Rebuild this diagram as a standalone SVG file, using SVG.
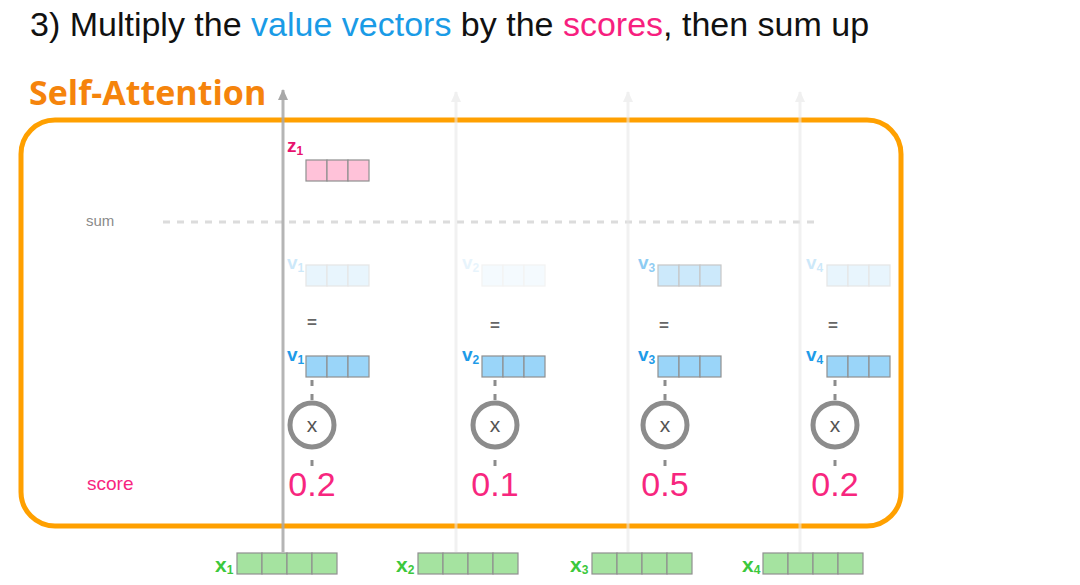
<svg xmlns="http://www.w3.org/2000/svg" width="1080" height="585" viewBox="0 0 1080 585">
<style>
.title{font-family:"Liberation Sans",Arial,sans-serif;font-size:34px;fill:#111}
.sa{font-family:"Open Sans","Liberation Sans",sans-serif;font-weight:bold;font-size:34px;fill:#F5840C}
.lbl{font-family:"Liberation Sans",Arial,sans-serif;font-size:15px;fill:#8a8a8a}
.score{font-family:"Liberation Sans",Arial,sans-serif;font-size:19px;fill:#F7267E}
.num{font-family:"Liberation Sans",Arial,sans-serif;font-size:34px;fill:#F7267E;text-anchor:middle}
.vl{font-family:"Liberation Sans",Arial,sans-serif;font-weight:bold;font-size:19px}
.sub{font-size:12px}
.xl{font-family:"Liberation Sans",Arial,sans-serif;font-weight:bold;font-size:21px;fill:#3CC83C}
.eq{font-family:"Liberation Sans",Arial,sans-serif;font-weight:bold;font-size:17px;fill:#666;text-anchor:middle}
.mx{font-family:"Liberation Sans",Arial,sans-serif;font-size:21px;fill:#555;text-anchor:middle}
.cell{stroke:#8f8f8f;stroke-width:1.2}
.green{fill:#A5E3A0}
.blue{fill:#9AD5F9}
.pink{fill:#FFC2D9}
.circ{fill:#fff;stroke:#8C8C8C;stroke-width:5}
.tick{stroke:#8C8C8C;stroke-width:3;stroke-dasharray:6 8}
</style>
<defs>
<marker id="ahd" markerWidth="12" markerHeight="12" refX="10" refY="5" orient="auto" markerUnits="userSpaceOnUse">
<path d="M0,0 L11,5 L0,10 Z" fill="#A8A8A8"/>
</marker>
<marker id="ahl" markerWidth="12" markerHeight="12" refX="10" refY="5" orient="auto" markerUnits="userSpaceOnUse">
<path d="M0,0 L11,5 L0,10 Z" fill="#F0F0F0"/>
</marker>
</defs>

<g id="title">
<text class="title" x="30" y="36">3) Multiply the <tspan fill="#1A9BE6">value vectors</tspan> by the <tspan fill="#F71F7F">scores</tspan>, then sum up</text>
</g>

<g id="self-attention">
<text class="sa" x="29" y="105">Self-Attention</text>
<rect x="21" y="120" width="880" height="406" rx="34" fill="none" stroke="#FFA000" stroke-width="5"/>
</g>

<g id="row-labels">
<text class="lbl" x="86" y="226">sum</text>
<text class="score" x="87" y="490">score</text>
</g>

<g id="sum-line">
<line x1="163" y1="222" x2="815" y2="222" stroke="#DCDCDC" stroke-width="3" stroke-dasharray="7 7"/>
</g>

<g id="z1">
<text class="vl" x="287" y="152" fill="#E8126E">z<tspan class="sub" dy="3">1</tspan></text>
<rect class="cell pink" x="306" y="160" width="21" height="21"/>
<rect class="cell pink" x="327" y="160" width="21" height="21"/>
<rect class="cell pink" x="348" y="160" width="21" height="21"/>
</g>

<g id="col1">
<g opacity="0.22">
<text class="vl" x="287" y="269" fill="#1E9BE8">v<tspan class="sub" dy="3">1</tspan></text>
<rect class="cell blue" x="306" y="265" width="21" height="21"/><rect class="cell blue" x="327" y="265" width="21" height="21"/><rect class="cell blue" x="348" y="265" width="21" height="21"/>
</g>
<text class="eq" x="312" y="328">=</text>
<text class="vl" x="287" y="361" fill="#1E9BE8">v<tspan class="sub" dy="3">1</tspan></text>
<rect class="cell blue" x="306" y="356" width="21" height="21"/><rect class="cell blue" x="327" y="356" width="21" height="21"/><rect class="cell blue" x="348" y="356" width="21" height="21"/>
<line class="tick" x1="312" y1="380" x2="312" y2="402"/>
<line class="tick" x1="312" y1="460" x2="312" y2="470"/>
<circle class="circ" cx="312" cy="425" r="22"/>
<text class="mx" x="312" y="432">x</text>
<text class="num" x="312" y="496">0.2</text>
</g>

<g id="col2">
<g opacity="0.1">
<text class="vl" x="462" y="269" fill="#1E9BE8">v<tspan class="sub" dy="3">2</tspan></text>
<rect class="cell blue" x="482" y="265" width="21" height="21"/><rect class="cell blue" x="503" y="265" width="21" height="21"/><rect class="cell blue" x="524" y="265" width="21" height="21"/>
</g>
<text class="eq" x="495" y="331">=</text>
<text class="vl" x="462" y="361" fill="#1E9BE8">v<tspan class="sub" dy="3">2</tspan></text>
<rect class="cell blue" x="482" y="356" width="21" height="21"/><rect class="cell blue" x="503" y="356" width="21" height="21"/><rect class="cell blue" x="524" y="356" width="21" height="21"/>
<line class="tick" x1="495" y1="380" x2="495" y2="402"/>
<line class="tick" x1="495" y1="460" x2="495" y2="470"/>
<circle class="circ" cx="495" cy="425" r="22"/>
<text class="mx" x="495" y="432">x</text>
<text class="num" x="495" y="496">0.1</text>
</g>

<g id="col3">
<g opacity="0.5">
<text class="vl" x="638" y="269" fill="#1E9BE8">v<tspan class="sub" dy="3">3</tspan></text>
<rect class="cell blue" x="658" y="265" width="21" height="21"/><rect class="cell blue" x="679" y="265" width="21" height="21"/><rect class="cell blue" x="700" y="265" width="21" height="21"/>
</g>
<text class="eq" x="664" y="331">=</text>
<text class="vl" x="638" y="361" fill="#1E9BE8">v<tspan class="sub" dy="3">3</tspan></text>
<rect class="cell blue" x="658" y="356" width="21" height="21"/><rect class="cell blue" x="679" y="356" width="21" height="21"/><rect class="cell blue" x="700" y="356" width="21" height="21"/>
<line class="tick" x1="665" y1="380" x2="665" y2="402"/>
<line class="tick" x1="665" y1="460" x2="665" y2="470"/>
<circle class="circ" cx="665" cy="425" r="22"/>
<text class="mx" x="665" y="432">x</text>
<text class="num" x="665" y="496">0.5</text>
</g>

<g id="col4">
<g opacity="0.22">
<text class="vl" x="806" y="269" fill="#1E9BE8">v<tspan class="sub" dy="3">4</tspan></text>
<rect class="cell blue" x="827" y="265" width="21" height="21"/><rect class="cell blue" x="848" y="265" width="21" height="21"/><rect class="cell blue" x="869" y="265" width="21" height="21"/>
</g>
<text class="eq" x="833" y="331">=</text>
<text class="vl" x="806" y="361" fill="#1E9BE8">v<tspan class="sub" dy="3">4</tspan></text>
<rect class="cell blue" x="827" y="356" width="21" height="21"/><rect class="cell blue" x="848" y="356" width="21" height="21"/><rect class="cell blue" x="869" y="356" width="21" height="21"/>
<line class="tick" x1="835" y1="380" x2="835" y2="402"/>
<line class="tick" x1="835" y1="460" x2="835" y2="470"/>
<circle class="circ" cx="835" cy="425" r="22"/>
<text class="mx" x="835" y="432">x</text>
<text class="num" x="835" y="496">0.2</text>
</g>

<g id="x1">
<text class="xl" x="215" y="572">x<tspan class="sub" dy="2">1</tspan></text>
<rect class="cell green" x="237" y="553" width="25" height="21"/><rect class="cell green" x="262" y="553" width="25" height="21"/><rect class="cell green" x="287" y="553" width="25" height="21"/><rect class="cell green" x="312" y="553" width="25" height="21"/>
</g>
<g id="x2">
<text class="xl" x="396" y="572">x<tspan class="sub" dy="2">2</tspan></text>
<rect class="cell green" x="418" y="553" width="25" height="21"/><rect class="cell green" x="443" y="553" width="25" height="21"/><rect class="cell green" x="468" y="553" width="25" height="21"/><rect class="cell green" x="493" y="553" width="25" height="21"/>
</g>
<g id="x3">
<text class="xl" x="570" y="572">x<tspan class="sub" dy="2">3</tspan></text>
<rect class="cell green" x="592" y="553" width="25" height="21"/><rect class="cell green" x="617" y="553" width="25" height="21"/><rect class="cell green" x="642" y="553" width="25" height="21"/><rect class="cell green" x="667" y="553" width="25" height="21"/>
</g>
<g id="x4">
<text class="xl" x="742" y="572">x<tspan class="sub" dy="2">4</tspan></text>
<rect class="cell green" x="763" y="553" width="25" height="21"/><rect class="cell green" x="788" y="553" width="25" height="21"/><rect class="cell green" x="813" y="553" width="25" height="21"/><rect class="cell green" x="838" y="553" width="25" height="21"/>
</g>

<g id="connectors">
<line x1="456" y1="552" x2="456" y2="92" stroke="#E8E8E8" stroke-opacity="0.6" stroke-width="3" marker-end="url(#ahl)"/>
<line x1="628" y1="552" x2="628" y2="92" stroke="#E8E8E8" stroke-opacity="0.6" stroke-width="3" marker-end="url(#ahl)"/>
<line x1="800" y1="552" x2="800" y2="92" stroke="#E8E8E8" stroke-opacity="0.6" stroke-width="3" marker-end="url(#ahl)"/>
<line x1="283" y1="552" x2="283" y2="90" stroke="#A8A8A8" stroke-opacity="0.85" stroke-width="3" marker-end="url(#ahd)"/>
</g>
</svg>
